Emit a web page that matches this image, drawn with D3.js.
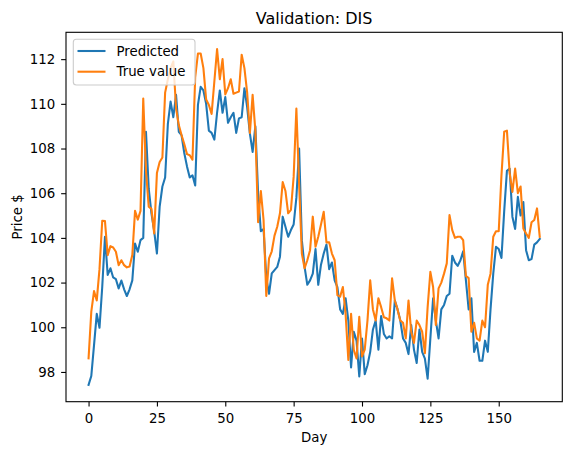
<!DOCTYPE html>
<html><head><meta charset="utf-8">
<script src="https://cdn.jsdelivr.net/npm/d3@7"></script>
<style>body{margin:0;background:#fff}svg{display:block}text{font-family:"DejaVu Sans",sans-serif;fill:#000}</style>
</head><body><svg id="c" width="571" height="455"></svg>
<script>
const title = "Validation: DIS";
const xLabel = "Day";
const yLabel = "Price $";
const seriesNames = ["Predicted", "True value"];
const xTicks = [0, 25, 50, 75, 100, 125, 150];
const yTicks = [98, 100, 102, 104, 106, 108, 110, 112];
const predicted = [97.42,97.82,99.2,100.6,99.98,101.8,104.05,102.34,102.64,102.23,
102.15,101.74,102.09,101.7,101.4,101.7,102.1,103.75,103.38,103.9,
104.0,108.75,106.2,105.1,104.3,103.3,105.4,106.3,106.7,109.1,
110.1,109.4,110.4,108.75,108.6,107.8,107.2,106.7,106.8,106.35,
109.95,110.76,110.6,110.0,108.8,108.7,108.4,109.6,110.6,109.6,
110.3,109.15,109.4,109.6,108.7,109.35,109.4,110.7,109.85,108.67,
107.85,109.0,106.0,104.3,104.4,102.2,101.5,102.41,102.56,102.7,
103.16,104.95,104.5,104.05,104.35,104.6,105.8,108.0,103.9,102.7,
101.9,102.1,102.4,103.5,101.9,102.8,103.3,103.7,102.6,102.9,
102.1,101.8,100.8,100.6,101.3,100.3,98.2,99.8,99.4,97.8,
99.5,97.9,98.3,98.9,99.9,100.3,99.0,100.5,99.7,99.5,
99.6,99.5,101.2,100.8,100.3,99.5,99.3,98.8,100.1,99.0,
98.4,99.9,98.9,98.6,97.7,99.5,101.3,100.3,99.5,100.8,
101.0,101.4,101.5,103.2,102.9,102.75,103.0,103.4,102.1,100.8,
101.3,98.9,99.3,98.5,98.5,99.4,98.9,100.8,102.4,103.6,
103.5,103.1,105.2,107.0,107.1,104.95,104.4,105.84,105.0,105.6,
103.45,103.0,103.05,103.7,103.8,103.95];
const trueValue = [98.61,100.7,101.62,101.2,102.6,104.77,104.75,103.23,103.63,103.57,
103.38,102.78,103.0,102.78,102.68,102.72,103.23,105.21,104.82,105.21,
110.24,107.0,105.4,105.3,104.2,106.9,107.4,107.6,110.5,111.1,
111.6,111.9,109.8,109.05,108.6,108.2,107.75,107.7,107.5,111.2,
112.25,112.25,111.6,110.2,109.95,109.55,111.0,112.45,111.1,112.0,
110.42,110.7,111.1,110.45,110.5,110.55,112.2,111.6,110.5,108.7,
110.4,108.8,104.7,106.1,104.8,101.4,103.08,103.4,104.1,104.5,
105.1,106.5,106.1,105.1,105.25,106.73,109.79,106.4,103.3,102.64,
103.0,103.45,104.95,103.6,104.05,104.6,105.17,103.8,103.8,103.3,
103.0,101.44,101.37,101.8,100.6,98.54,100.6,98.98,98.6,100.47,
98.7,99.0,100.3,102.1,100.8,100.3,101.3,100.9,100.45,100.4,
100.3,102.19,101.2,100.8,100.3,100.2,99.5,101.2,99.8,99.3,
100.3,100.1,99.8,98.84,100.9,102.48,101.8,100.1,101.74,102.0,
102.4,102.86,105.02,104.35,104.0,104.05,104.05,103.9,102.3,102.2,
99.8,100.2,99.5,99.4,100.3,100.0,101.9,102.4,104.05,104.3,
104.3,106.8,108.75,108.8,106.9,106.06,107.1,106.0,106.3,104.42,
104.2,104.0,104.7,104.8,105.32,104.05];
const colors = ["#1f77b4", "#ff7f0e"];

const svg = d3.select("#c");
const L = 66, R = 562.3, T = 32.3, B = 401.7;
const n = predicted.length;
const allV = predicted.concat(trueValue);
const vmin = d3.min(allV), vmax = d3.max(allV);
const xpad = (n - 1) * 0.05, ypad = (vmax - vmin) * 0.05;
const x = d3.scaleLinear().domain([-xpad, n - 1 + xpad]).range([L, R]);
const y = d3.scaleLinear().domain([vmin - ypad, vmax + ypad]).range([B, T]);

const g = svg.append("g");
const line = d3.line().x((d, i) => x(i)).y(d => y(d));
[predicted, trueValue].forEach((s, k) => {
  g.append("path").datum(s).attr("d", line).attr("fill", "none")
    .attr("stroke", colors[k]).attr("stroke-width", 2.08)
    .attr("stroke-linejoin", "round").attr("stroke-linecap", "square");
});

const xAxis = d3.axisBottom(x).tickValues(xTicks).tickSize(4.86).tickPadding(7.3).tickFormat(d3.format("d"));
const yAxis = d3.axisLeft(y).tickValues(yTicks).tickSize(4.86).tickPadding(6).tickFormat(d3.format("d"));
const gx = svg.append("g").attr("transform", `translate(0,${B})`).call(xAxis);
const gy = svg.append("g").attr("transform", `translate(${L},0)`).call(yAxis);
[gx, gy].forEach(a => {
  a.select(".domain").remove();
  a.selectAll("line").attr("stroke", "#000").attr("stroke-width", 1.1);
  a.selectAll("text").attr("font-size", "13.33px").attr("font-family", "DejaVu Sans").attr("fill", "#000");
});

svg.append("rect").attr("x", L).attr("y", T).attr("width", R - L).attr("height", B - T)
  .attr("fill", "none").attr("stroke", "#000").attr("stroke-width", 1.1);

svg.append("text").attr("x", (L + R) / 2).attr("y", 24).attr("text-anchor", "middle")
  .attr("font-size", "16px").text(title);
svg.append("text").attr("x", (L + R) / 2).attr("y", 442).attr("text-anchor", "middle")
  .attr("font-size", "13.33px").text(xLabel);
svg.append("text").attr("transform", `translate(22,${(T + B) / 2}) rotate(-90)`).attr("text-anchor", "middle")
  .attr("font-size", "13.33px").text(yLabel);

const lg = svg.append("g");
lg.append("rect").attr("x", 73.3).attr("y", 39.3).attr("width", 121.7).attr("height", 45.7)
  .attr("rx", 3).attr("fill", "#fff").attr("fill-opacity", 0.8).attr("stroke", "#cccccc").attr("stroke-width", 1.1);
seriesNames.forEach((name, k) => {
  const yy = 51 + k * 20.7;
  lg.append("line").attr("x1", 77.5).attr("x2", 105.5).attr("y1", yy).attr("y2", yy)
    .attr("stroke", colors[k]).attr("stroke-width", 2.08);
  lg.append("text").attr("x", 116.5).attr("y", yy).attr("dy", "0.36em").attr("font-size", "13.33px").text(name);
});
</script></body></html>
